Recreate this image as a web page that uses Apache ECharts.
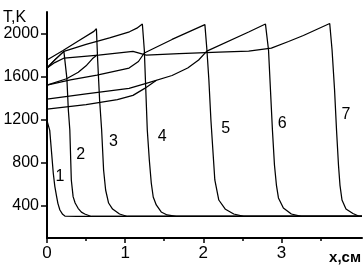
<!DOCTYPE html>
<html><head><meta charset="utf-8">
<script src="https://cdn.jsdelivr.net/npm/echarts@6/dist/echarts.min.js"></script>
<style>html,body{margin:0;padding:0;background:#fff}#c{width:364px;height:266px}</style>
</head><body><div id="c"></div>
<script>
const xTickLabels = [0, 1, 2, 3];
const yTickLabels = [400, 800, 1200, 1600, 2000];
const curveNames = ['1', '2', '3', '4', '5', '6', '7', '', ''];
const curve1 = [[0,1190],[0.02,1180],[0.035,1100],[0.06,880],[0.08,704],[0.1,580],[0.123,484],[0.14,420],[0.165,360],[0.2,320],[0.229,304],[0.38,300],[4.03,300]];
const curve2 = [[0,1680],[0.1,1755],[0.216,1834],[0.235,1828],[0.254,1586],[0.273,1289],[0.292,1103],[0.311,639],[0.334,484],[0.36,425],[0.398,376],[0.44,340],[0.483,323],[0.568,300],[4.03,300]];
const curve3 = [[0,1754],[0.2,1840],[0.4,1930],[0.6,2020],[0.632,2045],[0.648,1754],[0.673,1382],[0.699,1103],[0.724,732],[0.75,546],[0.788,425],[0.839,369],[0.928,323],[1.03,300],[4.03,300]];
const curve4 = [[0,1680],[0.1,1755],[0.216,1834],[0.5,1900],[0.8,1960],[1.055,2016],[1.15,2050],[1.22,2088],[1.245,1847],[1.264,1475],[1.283,1103],[1.309,825],[1.334,611],[1.359,481],[1.398,407],[1.461,342],[1.537,314],[1.652,300],[4.03,300]];
const curve5 = [[0,1521],[0.3,1570],[0.64,1614],[1.05,1679],[1.17,1740],[1.245,1819],[1.6,1945],[2.02,2083],[2.046,1847],[2.071,1568],[2.097,1196],[2.122,918],[2.147,639],[2.198,453],[2.283,367],[2.389,323],[2.516,300],[4.03,300]];
const curve6 = [[0,1391],[0.5,1440],[1.05,1490],[1.28,1540],[1.6,1610],[1.8,1680],[1.94,1754],[2.045,1837],[2.58,2014],[2.795,2088],[2.834,1847],[2.859,1475],[2.884,1103],[2.91,778],[2.935,592],[2.961,472],[3.024,379],[3.126,323],[3.253,300],[4.03,300]];
const curve7 = [[0,1680],[0.1,1730],[0.22,1772],[0.66,1800],[1.1,1834],[1.27,1800],[1.69,1814],[2.2,1828],[2.58,1837],[2.87,1865],[3.09,1926],[3.28,1982],[3.617,2093],[3.647,1847],[3.679,1475],[3.704,1103],[3.729,778],[3.748,592],[3.774,453],[3.825,369],[3.914,328],[4.0,300],[4.03,300]];
const extraLow = [[0,1298],[0.5,1340],[0.9,1385],[1.1,1425],[1.25,1490],[1.4,1566]];
const extraKnee = [[0,1521],[0.25,1580],[0.4,1640],[0.5,1700],[0.58,1765],[0.64,1800]];
const labelPos = [[0.165,667],[0.432,871],[0.851,992],[1.474,1038],[2.287,1113],[3.01,1159],[3.825,1243]];
const curves = [curve1, curve2, curve3, curve4, curve5, curve6, curve7, extraLow, extraKnee];

const chart = echarts.init(document.getElementById('c'), null, {renderer:'canvas'});
const font = '"Liberation Sans", Arial, sans-serif';
chart.setOption({
  animation: false,
  grid: {left: 47, right: 0, top: 12, bottom: 28, containLabel: false},
  xAxis: {
    type: 'value', min: 0, max: 4.03, interval: 1,
    axisLine: {show: true, onZero: false, lineStyle: {color: '#000', width: 2}},
    axisTick: {show: true, inside: false, length: 5, lineStyle: {color: '#000', width: 1.5}, customValues: xTickLabels},
    minorTick: {show: true, splitNumber: 2, length: 3, lineStyle: {color: '#000', width: 1.5}},
    splitLine: {show: false},
    axisLabel: {color: '#000', fontFamily: font, fontSize: 17, margin: 7, customValues: xTickLabels, formatter: v => String(v)},
    name: 'x,см', nameLocation: 'end', nameGap: 0,
    nameTextStyle: {color: '#000', fontFamily: font, fontSize: 15, fontWeight: 'bold', align: 'right', verticalAlign: 'top', padding: [12, 1, 0, 0]}
  },
  yAxis: {
    type: 'value', min: 100, max: 2200,
    axisLine: {show: true, onZero: false, lineStyle: {color: '#000', width: 2}},
    axisTick: {show: true, inside: false, length: 6, lineStyle: {color: '#000', width: 1.5}, customValues: yTickLabels},
    splitLine: {show: false},
    axisLabel: {color: '#000', fontFamily: font, fontSize: 16, margin: 8, customValues: yTickLabels, formatter: v => String(v)},
    name: 'T,K', nameLocation: 'end', nameGap: 0,
    nameTextStyle: {color: '#000', fontFamily: font, fontSize: 16, align: 'left', verticalAlign: 'top', padding: [0, 0, 0, -44]}
  },
  series: curves.map((d, i) => {
    const s = {type: 'line', data: d, showSymbol: false, smooth: false, lineStyle: {color: '#000', width: 1.25}, z: 2};
    if (labelPos[i]) s.markPoint = {
      symbol: 'circle', symbolSize: 0,
      label: {show: true, color: '#000', fontFamily: font, fontSize: 16, formatter: curveNames[i]},
      data: [{coord: labelPos[i], value: curveNames[i]}]
    };
    return s;
  })
});
</script></body></html>
